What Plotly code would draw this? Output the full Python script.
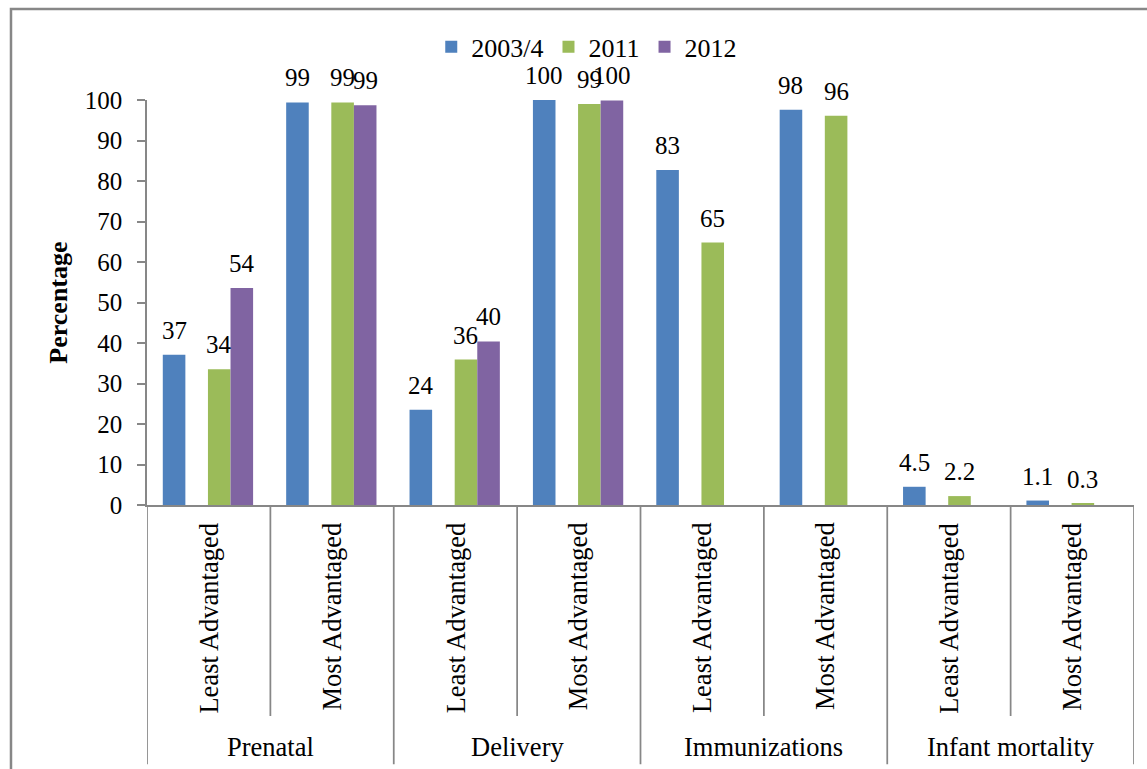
import plotly.graph_objects as go

# Categories: four indicators, each split into least / most advantaged
groups = ["Prenatal", "Delivery", "Immunizations", "Infant mortality"]
subgroups = ["Least Advantaged", "Most Advantaged"]
series_names = ["2003/4", "2011", "2012"]

# Percentages per sub-category (Prenatal L/M, Delivery L/M, Immunizations L/M, Infant mortality L/M)
v2003 = [37.1, 99.4, 23.5, 100.0, 82.7, 97.6, 4.5, 1.1]
v2011 = [33.5, 99.4, 35.9, 99.0, 64.8, 96.1, 2.2, 0.3]
v2012 = [53.6, 98.7, 40.4, 99.9, None, None, None, None]
label_decimals = [0, 0, 0, 0, 0, 0, 1, 1]

colors = ["#4F81BD", "#9BBB59", "#8064A2"]
serif = "Liberation Serif"
grey = "#878787"

# Each cluster has four slots; the second slot is left empty
slot_w = 0.183
slot_start = -0.372
slot_index = [0, 2, 3]

x_idx = list(range(len(groups) * len(subgroups)))
series = [v2003, v2011, v2012]

fig = go.Figure()
annotations = []
for name, vals, col, slot in zip(series_names, series, colors, slot_index):
    off = slot_start + slot * slot_w
    fig.add_trace(go.Bar(
        x=x_idx, y=vals, name=name,
        width=slot_w, offset=off,
        marker=dict(color=col, line=dict(width=0)),
    ))
    for i, v in zip(x_idx, vals):
        if v is None:
            continue
        txt = f"{v:.{label_decimals[i]}f}"
        annotations.append(dict(
            x=i + off + slot_w / 2, y=v, xref="x", yref="y",
            text=txt, showarrow=False, yanchor="bottom", xanchor="center",
            yshift=9, font=dict(family=serif, size=25, color="black"),
        ))

# Sub-category labels (rotated) and group labels under the axis
for i in x_idx:
    annotations.append(dict(
        x=i, y=-0.038, xref="x", yref="paper",
        text=subgroups[i % 2], textangle=-90, showarrow=False,
        xanchor="center", yanchor="top",
        font=dict(family=serif, size=26.5, color="black"),
    ))
for g, gname in enumerate(groups):
    annotations.append(dict(
        x=2 * g + 0.5, y=-0.5975, xref="x", yref="paper",
        text=gname, showarrow=False, xanchor="center", yanchor="middle",
        font=dict(family=serif, size=26.5, color="black"),
    ))

# Y axis title
annotations.append(dict(
    x=-0.09, y=0.5, xref="paper", yref="paper",
    text="<b>Percentage</b>", textangle=-90, showarrow=False,
    xanchor="center", yanchor="middle",
    font=dict(family=serif, size=26, color="black"),
))

shapes = []
# Divider lines between sub-categories
for xb in [0.5, 2.5, 4.5, 6.5]:
    shapes.append(dict(type="line", xref="x", yref="paper",
                       x0=xb, x1=xb, y0=0, y1=-0.521,
                       line=dict(color=grey, width=1.75)))
# Divider lines between groups
for xb in [-0.5, 1.5, 3.5, 5.5, 7.5]:
    shapes.append(dict(type="line", xref="x", yref="paper",
                       x0=xb, x1=xb, y0=0, y1=-0.64,
                       line=dict(color=grey, width=1.75)))
# Chart frame
shapes.append(dict(type="rect", xref="paper", yref="paper",
                   x0=-0.1378, x1=1.03, y0=-0.7, y1=1.2247,
                   line=dict(color=grey, width=2.5), fillcolor="rgba(0,0,0,0)"))

fig.update_layout(
    width=1147, height=769,
    margin=dict(l=147, r=13, t=100, b=264, autoexpand=False),
    paper_bgcolor="white", plot_bgcolor="white",
    barmode="overlay",
    showlegend=True,
    font=dict(family=serif, color="black"),
    legend=dict(orientation="h", x=0.288, xanchor="left", y=1.131, yanchor="middle",
                font=dict(family=serif, size=26, color="black"),
                bgcolor="rgba(0,0,0,0)", itemwidth=30, tracegroupgap=0),
    xaxis=dict(range=[-0.5, 7.5], showticklabels=False, ticks="",
               showgrid=False, zeroline=False,
               showline=True, linecolor=grey, linewidth=1.75),
    yaxis=dict(range=[0, 100], dtick=10, ticks="outside", ticklen=8,
               tickcolor=grey, tickwidth=1.75,
               showgrid=False, zeroline=False,
               showline=True, linecolor=grey, linewidth=1.75,
               ticklabelstandoff=10,
               tickfont=dict(family=serif, size=25, color="black")),
    annotations=annotations,
    shapes=shapes,
)

fig.write_html("out.html")
